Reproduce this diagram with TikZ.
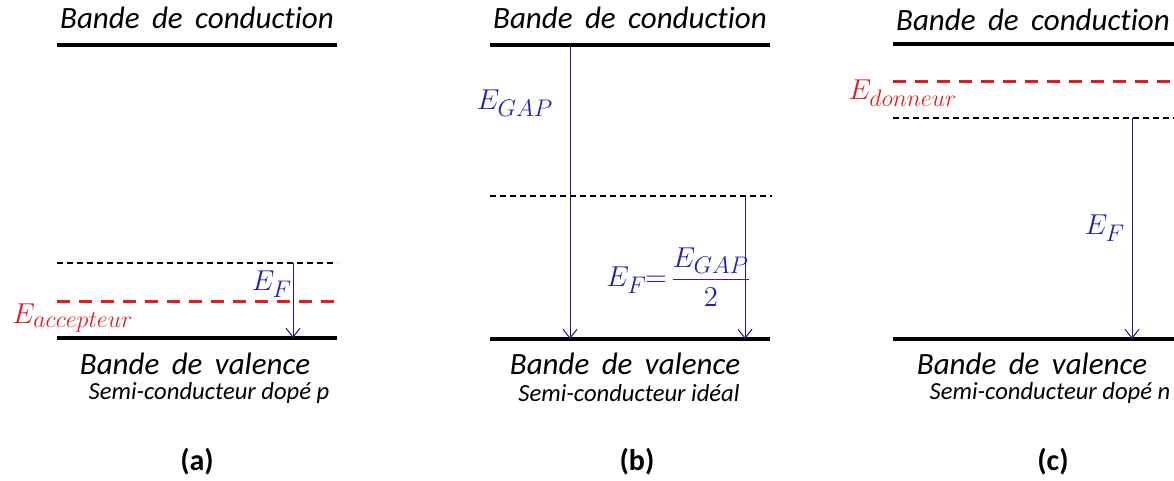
\documentclass[tikz,border=0pt]{standalone}
\usepackage{amsmath}
\usepackage{fontspec}
\setmainfont{Carlito}[Ligatures=NoCommon]
\usetikzlibrary{arrows.meta}
\DeclareMathSizes{15}{15}{11.5}{9}
\newcommand\widespace{\spaceskip=0.4em\relax}
\definecolor{dopred}{RGB}{220,30,35}
\definecolor{levblue}{RGB}{35,35,175}
\definecolor{arrblue}{RGB}{25,25,125}
\tikzstyle{band} = [line width=2pt, black]
\tikzstyle{fermi} = [line width=1pt, black, dash pattern=on 3pt off 2pt]
\tikzstyle{dopant} = [line width=1.5pt, dopred, dash pattern=on 6.5pt off 4.5pt]
\tikzstyle{gaparrow} = [line width=0.5pt, arrblue, -{Straight Barb[length=4.5pt, width=7pt]}]
\tikzstyle{bandlabel} = [font=\fontsize{15.5}{18}\selectfont\itshape\widespace, inner sep=0pt]
\tikzstyle{typelabel} = [font=\fontsize{12.3}{14}\selectfont\itshape, inner sep=0pt]
\tikzstyle{panellabel} = [font=\fontsize{15}{17}\selectfont\bfseries, inner sep=0pt]
\tikzstyle{energy} = [levblue, font=\fontsize{15}{17}\selectfont, inner sep=0pt]
\tikzstyle{dopantlabel} = [dopred, font=\fontsize{15}{17}\selectfont, inner sep=0pt]

\begin{document}
\begin{tikzpicture}[x=0.5pt, y=-0.5pt]
\useasboundingbox (0, 0) rectangle (1174, 481);

% Panel (a): p-doped semiconductor
\node[bandlabel] (bca) at (197, 18) {Bande de conduction};
\draw[band] (57, 45) -- (337, 45);
\coordinate (efa) at (293, 263);
\coordinate (bva) at (293, 338);
\draw[fermi] (57, 263) -- (337, 263);
\draw[dopant] (57, 301) -- (337, 301);
\draw[band] (57, 338) -- (337, 338);
\draw[gaparrow] (efa) -- (bva);
\node[energy] (lefa) at (272, 284) {$E_F$};
\node[dopantlabel] (lacc) at (73, 318) {$E_{accepteur}$};
\node[bandlabel] (bval) at (195, 364) {Bande de valence};
\node[typelabel] (typa) at (209, 393) {Semi-conducteur dopé p};
\node[panellabel] (pa) at (197, 462) {(a)};

% Panel (b): ideal semiconductor
\node[bandlabel] (bcb) at (630, 18) {Bande de conduction};
\draw[band] (490, 45) -- (770, 45);
\draw[fermi] (490, 196) -- (772, 196);
\draw[band] (490, 339) -- (770, 339);
\coordinate (gtop) at (570, 47);
\coordinate (gbot) at (570, 339);
\coordinate (efb) at (745, 196);
\coordinate (efbot) at (745, 339);
\draw[gaparrow] (gtop) -- (gbot);
\draw[gaparrow] (efb) -- (efbot);
\node[energy] (lgap) at (515, 103) {$E_{GAP}$};
\node[energy] (lefb) at (679, 277) {$E_F\!\!=\!\dfrac{E_{GAP}}{2}$};
\node[bandlabel] (bvb) at (625, 364) {Bande de valence};
\node[typelabel] (typb) at (629, 393) {Semi-conducteur idéal};
\node[panellabel] (pb) at (637, 462) {(b)};

% Panel (c): n-doped semiconductor
\node[bandlabel] (bcc) at (1033, 20) {Bande de conduction};
\draw[band] (893, 44) -- (1174, 44);
\draw[dopant] (893, 82) -- (1174, 82);
\draw[fermi] (893, 118) -- (1174, 118);
\draw[band] (893, 339) -- (1174, 339);
\coordinate (efc) at (1132, 118);
\coordinate (bvc) at (1132, 339);
\draw[gaparrow] (efc) -- (bvc);
\node[dopantlabel] (ldon) at (903, 93) {$E_{donneur}$};
\node[energy] (lefc) at (1105, 228) {$E_F$};
\node[bandlabel] (bvcl) at (1032, 364) {Bande de valence};
\node[typelabel] (typc) at (1050, 393) {Semi-conducteur dopé n};
\node[panellabel] (pc) at (1053, 462) {(c)};
\end{tikzpicture}
\end{document}
